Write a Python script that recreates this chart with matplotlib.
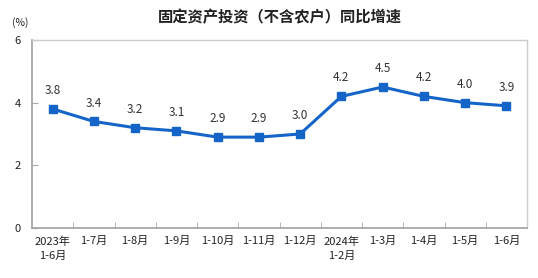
import matplotlib.pyplot as plt
import numpy as np

plt.rcParams['font.family'] = ['Noto Sans CJK SC', 'DejaVu Sans']

# data
labels = ['2023年\n1-6月', '1-7月', '1-8月', '1-9月', '1-10月', '1-11月', '1-12月',
          '2024年\n1-2月', '1-3月', '1-4月', '1-5月', '1-6月']
values = [3.8, 3.4, 3.2, 3.1, 2.9, 2.9, 3.0, 4.2, 4.5, 4.2, 4.0, 3.9]
yticks = [0, 2, 4, 6]

fig = plt.figure(figsize=(5.38, 2.78), dpi=100)
ax = fig.add_axes([32 / 538, 1 - 228 / 278, 495 / 538, 188 / 278])

x = np.arange(len(values))
blue = '#1565c8'
ax.plot(x, values, color=blue, lw=2.2, marker='s', ms=5.5, mfc=blue, mec=blue)

for xi, v in zip(x, values):
    ax.text(xi, v + 0.38, f'{v:.1f}', ha='center', va='bottom', fontsize=8.5,
            color='#333333')

ax.set_xlim(-0.5, len(values) - 0.5)
ax.set_ylim(0, 6)
ax.set_yticks(yticks)
ax.set_yticklabels([str(t) for t in yticks], fontsize=8, color='#222222')
ax.set_xticks(x)
ax.set_xticklabels(labels, fontsize=8, color='#222222', linespacing=1.5)
ax.set_xticks(np.arange(0.5, len(values) - 0.5), minor=True)
ax.tick_params(axis='x', which='major', length=0, pad=6)
ax.tick_params(axis='x', which='minor', direction='in', length=4, color='#aaaaaa')
ax.tick_params(axis='y', direction='in', length=4, color='#aaaaaa', pad=8)

for side in ['left', 'bottom']:
    ax.spines[side].set_color('#a0a0a0')
    ax.spines[side].set_linewidth(1.2)
for side in ['top', 'right']:
    ax.spines[side].set_color('#cccccc')
    ax.spines[side].set_linewidth(1.0)

fig.text(280 / 538, 1 - 17 / 278, '固定资产投资（不含农户）同比增速', ha='center', va='center',
         fontsize=11, fontweight='bold', color='#222222')
fig.text(20 / 538, 1 - 23 / 278, '(%)', ha='center', va='center', fontsize=7.5,
         color='#222222')

fig.savefig('out.png', dpi=100)
